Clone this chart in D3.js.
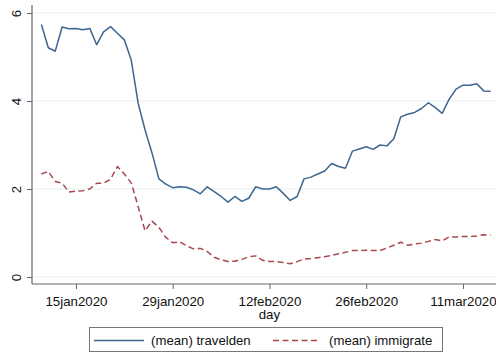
<!DOCTYPE html>
<html>
<head>
<meta charset="utf-8">
<script src="https://cdn.jsdelivr.net/npm/d3@7"></script>
<style>
  html, body { margin: 0; padding: 0; background: #fff; }
  svg { display: block; font-family: "Liberation Sans", Arial, sans-serif; }
</style>
</head>
<body>
<svg id="chart" width="496" height="353"></svg>
<script>
// Daily means, 10 Jan 2020 .. 15 Mar 2020
const startDate = "2020-01-10";
const travelden = [
  5.74, 5.21, 5.13, 5.68, 5.64, 5.65, 5.62, 5.65, 5.28, 5.57,
  5.69, 5.54, 5.39, 4.93, 3.95, 3.34, 2.82, 2.23, 2.11, 2.03,
  2.05, 2.04, 1.98, 1.89, 2.05, 1.94, 1.83, 1.70, 1.83, 1.72,
  1.79, 2.05, 2.00, 2.00, 2.05, 1.90, 1.74, 1.83, 2.23, 2.27,
  2.34, 2.41, 2.58, 2.51, 2.47, 2.86, 2.91, 2.96, 2.90, 3.00,
  2.98, 3.14, 3.64, 3.70, 3.74, 3.83, 3.96, 3.85, 3.72, 4.04,
  4.27, 4.36, 4.36, 4.39, 4.23, 4.22
];
const immigrate = [
  2.34, 2.40, 2.17, 2.13, 1.93, 1.95, 1.96, 2.00, 2.13, 2.13,
  2.22, 2.51, 2.34, 2.14, 1.60, 1.05, 1.27, 1.13, 0.90, 0.78,
  0.80, 0.71, 0.64, 0.65, 0.58, 0.45, 0.39, 0.35, 0.36, 0.40,
  0.46, 0.48, 0.38, 0.35, 0.35, 0.33, 0.30, 0.35, 0.41, 0.42,
  0.44, 0.46, 0.49, 0.53, 0.56, 0.60, 0.60, 0.61, 0.60, 0.60,
  0.66, 0.72, 0.79, 0.72, 0.75, 0.77, 0.81, 0.85, 0.82, 0.91,
  0.91, 0.92, 0.92, 0.93, 0.96, 0.95
];
const xTickLabels = ["15jan2020", "29jan2020", "12feb2020", "26feb2020", "11mar2020"];
const yTicks = [0, 2, 4, 6];
const seriesNames = ["(mean) travelden", "(mean) immigrate"];
const xTitle = "day";

const parseDay = d3.utcParse("%Y-%m-%d");
const fmtDay = d3.utcFormat("%d%b%Y");
const day0 = parseDay(startDate);
const days = travelden.map((_, i) => d3.utcDay.offset(day0, i));
const tickDates = xTickLabels.map(d3.utcParse("%d%b%Y"));

const svg = d3.select("#chart");
const W = 496;

const x = d3.scaleUtc()
  .domain([day0, days[days.length - 1]])
  .range([41.4, 490.6]);
const y = d3.scaleLinear().domain([0, 6]).range([277, 13]);

const plotLeft = 32, plotRight = W, plotTop = 5, plotBottom = 284;

// gridlines
svg.append("g")
  .selectAll("line")
  .data(yTicks)
  .join("line")
  .attr("x1", plotLeft).attr("x2", plotRight)
  .attr("y1", d => y(d)).attr("y2", d => y(d))
  .attr("stroke", "#e6eff1").attr("stroke-width", 1.2);

// y axis
const yAxis = svg.append("g")
  .attr("transform", `translate(${plotLeft},0)`)
  .call(d3.axisLeft(y).tickValues(yTicks).tickSize(5).tickFormat(d3.format("d")));
yAxis.select(".domain").attr("d", `M0,${plotTop}V${plotBottom}`).attr("stroke", "#666").attr("stroke-width", 1.2);
yAxis.selectAll(".tick line").attr("stroke", "#666");
yAxis.selectAll(".tick text")
  .attr("x", 0).attr("dy", 0)
  .attr("transform", "translate(-15,0) rotate(-90)")
  .attr("text-anchor", "middle")
  .attr("dominant-baseline", "middle")
  .attr("fill", "#111")
  .style("font-size", "13.3px");

// x axis
const xAxis = svg.append("g")
  .attr("transform", `translate(0,${plotBottom})`)
  .call(d3.axisBottom(x).tickValues(tickDates).tickSize(5)
    .tickFormat(d => fmtDay(d).toLowerCase()));
xAxis.select(".domain").attr("d", `M${plotLeft},0H${plotRight}`).attr("stroke", "#666").attr("stroke-width", 1.2);
xAxis.selectAll(".tick line").attr("stroke", "#666");
xAxis.selectAll(".tick text")
  .attr("y", 0).attr("dy", 0)
  .attr("transform", "translate(0,21.5)")
  .attr("fill", "#111")
  .style("font-size", "13.3px");

svg.append("text")
  .attr("x", x(tickDates[2])).attr("y", 318.5)
  .attr("text-anchor", "middle")
  .attr("fill", "#111")
  .style("font-size", "13.3px")
  .text(xTitle);

// series lines
const line = d3.line().x((d, i) => x(days[i])).y(d => y(d));
const colors = ["#3c6690", "#a8484e"];
const dashes = [null, "6,3.5"];

[travelden, immigrate].forEach((s, k) => {
  svg.append("path")
    .datum(s)
    .attr("fill", "none")
    .attr("stroke", colors[k])
    .attr("stroke-width", 1.5)
    .attr("stroke-linejoin", "round")
    .attr("stroke-dasharray", dashes[k])
    .attr("d", line);
});

// legend
const lg = svg.append("g");
lg.append("rect")
  .attr("x", 89.5).attr("y", 327.5).attr("width", 353).attr("height", 24)
  .attr("fill", "#fff").attr("stroke", "#777").attr("stroke-width", 1);
const legendItems = [
  { x1: 94, x2: 144, tx: 151 },
  { x1: 273, x2: 317, tx: 329 }
];
legendItems.forEach((it, k) => {
  lg.append("line")
    .attr("x1", it.x1).attr("x2", it.x2).attr("y1", 340.5).attr("y2", 340.5)
    .attr("stroke", colors[k]).attr("stroke-width", 1.3)
    .attr("stroke-dasharray", dashes[k]);
  lg.append("text")
    .attr("x", it.tx).attr("y", 345)
    .attr("fill", "#111")
    .style("font-size", "13.2px")
    .text(seriesNames[k]);
});
</script>
</body>
</html>
